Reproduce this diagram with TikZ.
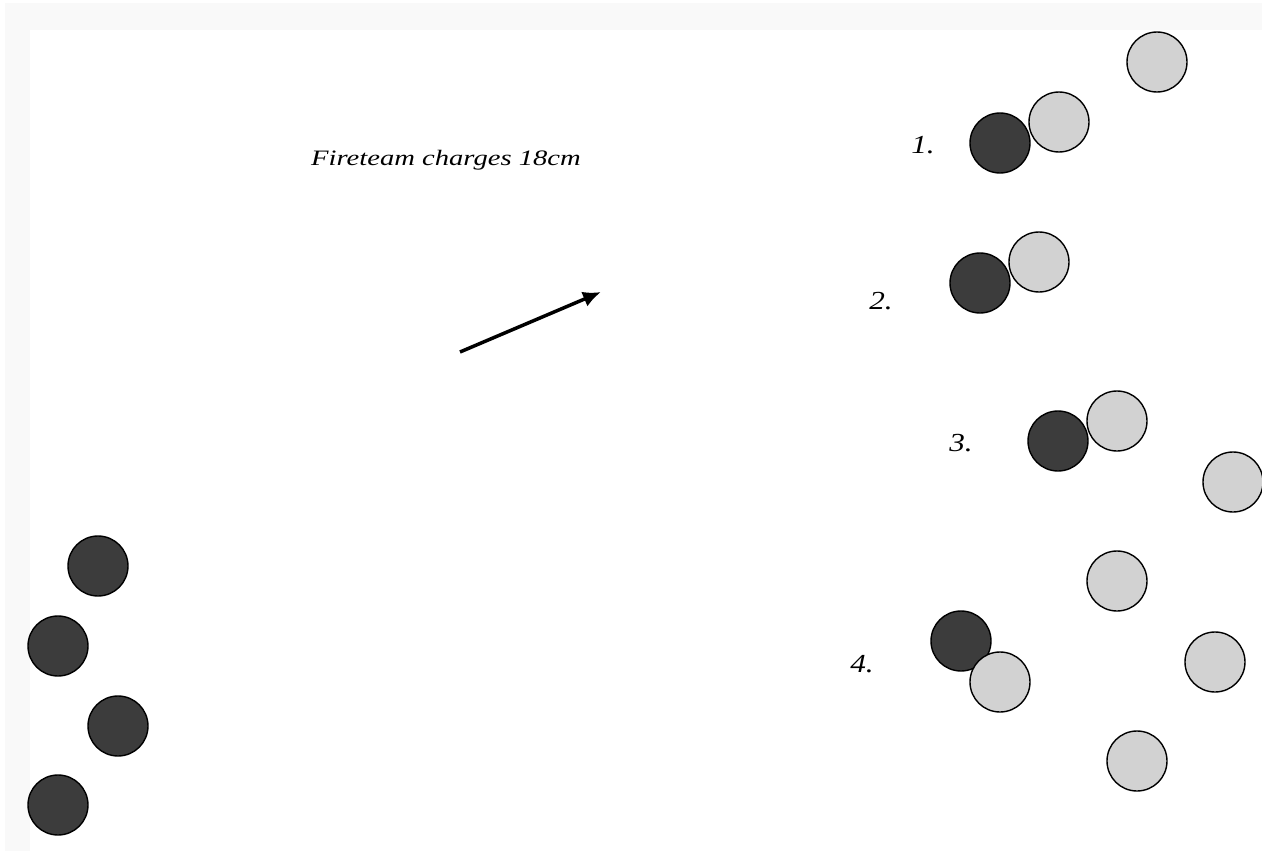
\documentclass[tikz,border=0pt]{standalone}
\usepackage{fontspec}
\setmainfont{Liberation Serif}
\usetikzlibrary{arrows.meta}
\definecolor{darkfig}{HTML}{3C3C3C}
\definecolor{lightfig}{HTML}{D2D2D2}
\definecolor{framegray}{HTML}{F9F9F9}
\tikzset{
  token/.style={circle, draw=black, line width=1.4pt, minimum size=60pt, inner sep=0pt},
  darktok/.style={token, fill=darkfig},
  lighttok/.style={token, fill=lightfig},
  numlabel/.style={font=\fontsize{26}{30}\selectfont\itshape, inner sep=0pt},
  caption/.style={font=\fontsize{22}{26}\selectfont\itshape, inner sep=0pt},
  movearrow/.style={line width=3.5pt, -{Latex[length=18pt,width=16pt]}}
}
\begin{document}
\begin{tikzpicture}[x=1pt,y=-1pt]
\useasboundingbox (0,0) rectangle (1262,851);
\fill[white] (0,0) rectangle (1262,851);
\fill[framegray] (5,3) rectangle (1262,30);
\fill[framegray] (5,3) rectangle (30,851);

% text and arrow
\node[caption] (cap) at (446,160) {\scalebox{1.3}[1]{Fireteam charges 18cm}};
\coordinate (as) at (460,352);
\coordinate (ae) at (601,292);
\draw[movearrow] (as) -- (ae);

% left fireteam
\node[darktok] (f1) at (98,566) {};
\node[darktok] (f2) at (58,646) {};
\node[darktok] (f3) at (118,726) {};
\node[darktok] (f4) at (58,805) {};

% case 1
\node[numlabel] (n1) at (923,145) {\scalebox{1.2}[1]{1.}};
\node[lighttok] (a2) at (1059,122) {};
\node[darktok] (a1) at (1000,143) {};
\node[lighttok] (a3) at (1157,62) {};

% case 2
\node[numlabel] (n2) at (881,301) {\scalebox{1.2}[1]{2.}};
\node[lighttok] (b2) at (1039,262) {};
\node[darktok] (b1) at (980,283) {};

% case 3
\node[numlabel] (n3) at (961,443) {\scalebox{1.2}[1]{3.}};
\node[lighttok] (c2) at (1117,421) {};
\node[darktok] (c1) at (1058,441) {};
\node[lighttok] (c3) at (1233,482) {};

% case 4
\node[numlabel] (n4) at (862,664) {\scalebox{1.2}[1]{4.}};
\node[darktok] (d1) at (961,641) {};
\node[lighttok] (d2) at (1000,682) {};
\node[lighttok] (d3) at (1117,581) {};
\node[lighttok] (d4) at (1215,662) {};
\node[lighttok] (d5) at (1137,761) {};
\end{tikzpicture}
\end{document}
